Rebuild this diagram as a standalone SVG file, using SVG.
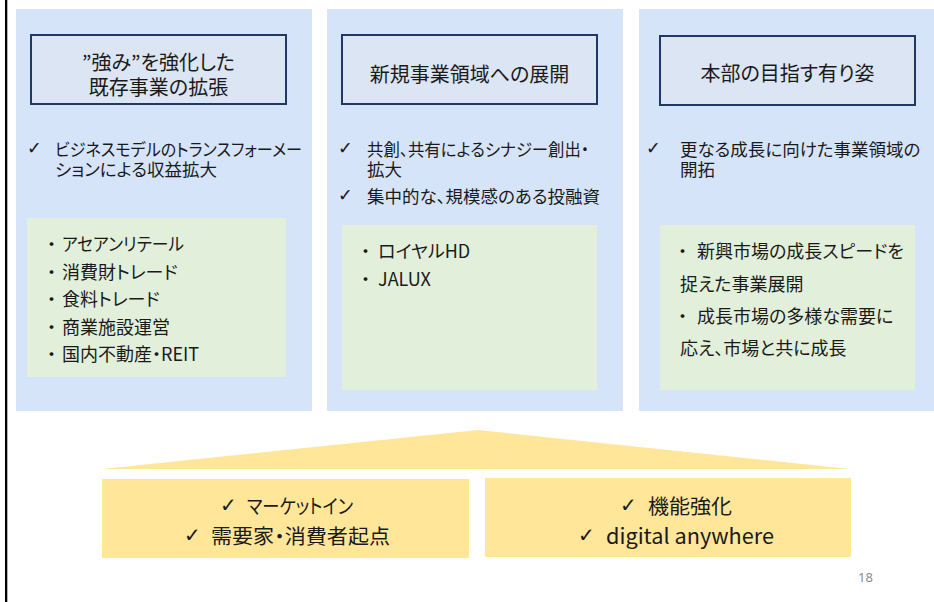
<svg xmlns="http://www.w3.org/2000/svg" width="934" height="602" viewBox="0 0 934 602">
<style>
text{font-family:"Meiryo UI","Noto Sans CJK JP","Noto Sans",sans-serif;fill:#1a1a1a;dominant-baseline:central;font-feature-settings:"palt" 1;}
.panel{fill:#D6E4FA;}
.title{fill:#DCE5F3;stroke:#203864;stroke-width:2;}
.green{fill:#E2EFDA;}
.yellow{fill:#FFE699;}
.t20{font-size:20px;text-anchor:middle;}
.t17{font-size:17.5px;}
.t18{font-size:18px;}
.b20{font-size:20px;}
.chk{font-family:"DejaVu Sans",sans-serif;font-feature-settings:normal;}
</style>
<rect x="5" y="0" width="2.3" height="602" fill="#000"/>
<g id="panel1">
<rect class="panel" x="16" y="9" width="296" height="402"/>
<rect class="title" x="31" y="35" width="255" height="69"/>
<text class="t20"><tspan x="158.5" y="61">”強み”を強化した</tspan><tspan x="158.5" y="86">既存事業の拡張</tspan></text>
<text class="t17 chk" x="27" y="148">✓</text>
<text class="t17"><tspan x="55" y="148" textLength="247" lengthAdjust="spacingAndGlyphs">ビジネスモデルのトランスフォーメー</tspan><tspan x="55" y="168">ションによる収益拡大</tspan></text>
<rect class="green" x="27" y="218" width="259" height="159"/>
<text class="t18" x="47" y="243">・</text><text class="t18" x="62" y="243" textLength="122" lengthAdjust="spacingAndGlyphs">アセアンリテール</text>
<text class="t18" x="47" y="271">・</text><text class="t18" x="62" y="271">消費財トレード</text>
<text class="t18" x="47" y="298">・</text><text class="t18" x="62" y="298">食料トレード</text>
<text class="t18" x="47" y="326">・</text><text class="t18" x="62" y="326">商業施設運営</text>
<text class="t18" x="47" y="353">・</text><text class="t18" x="62" y="353">国内不動産・REIT</text>
</g>
<g id="panel2">
<rect class="panel" x="327" y="9" width="296" height="402"/>
<rect class="title" x="342" y="35" width="255" height="69"/>
<text class="t20" x="469.5" y="73">新規事業領域への展開</text>
<text class="t17 chk" x="338" y="148">✓</text>
<text class="t17"><tspan x="367" y="148" textLength="222" lengthAdjust="spacingAndGlyphs">共創、共有によるシナジー創出・</tspan><tspan x="367" y="168">拡大</tspan></text>
<text class="t17 chk" x="338" y="195">✓</text>
<text class="t17" x="367" y="195">集中的な、規模感のある投融資</text>
<rect class="green" x="342" y="225" width="255" height="165"/>
<text class="t18" x="361" y="250">・</text><text class="t18" x="378" y="250">ロイヤルHD</text>
<text class="t18" x="361" y="278">・</text><text class="t18" x="378" y="278">JALUX</text>
</g>
<g id="panel3">
<rect class="panel" x="639" y="9" width="296" height="402"/>
<rect class="title" x="660" y="36" width="255" height="69"/>
<text class="t20" x="787.5" y="72">本部の目指す有り姿</text>
<text class="t17 chk" x="646" y="148">✓</text>
<text class="t17"><tspan x="680" y="148">更なる成長に向けた事業領域の</tspan><tspan x="680" y="168">開拓</tspan></text>
<rect class="green" x="660" y="225" width="255" height="165"/>
<text class="t18" x="678" y="250">・</text>
<text class="t18"><tspan x="697" y="250">新興市場の成長スピードを</tspan><tspan x="680" y="283">捉えた事業展開</tspan></text>
<text class="t18" x="678" y="315">・</text>
<text class="t18"><tspan x="697" y="315">成長市場の多様な需要に</tspan><tspan x="680" y="347">応え、市場と共に成長</tspan></text>
</g>
<g id="base">
<polygon class="yellow" points="102,469 478,430 850,469"/>
</g>
<g id="box-market">
<rect class="yellow" x="102" y="479" width="367" height="79"/>
<text class="b20 chk" x="220" y="505">✓</text>
<text class="b20" x="247" y="505" textLength="106" lengthAdjust="spacingAndGlyphs">マーケットイン</text>
<text class="b20 chk" x="184" y="535">✓</text>
<text class="b20" x="211" y="535" textLength="179" lengthAdjust="spacingAndGlyphs">需要家・消費者起点</text>
</g>
<g id="box-function">
<rect class="yellow" x="485" y="478" width="366" height="79"/>
<text class="b20 chk" x="620" y="505">✓</text>
<text class="b20" x="648" y="505" textLength="84" lengthAdjust="spacingAndGlyphs">機能強化</text>
<text class="b20 chk" x="578" y="535">✓</text>
<text class="b20" x="606" y="535" style="font-size:21px" textLength="168" lengthAdjust="spacingAndGlyphs">digital anywhere</text>
</g>
<text x="858" y="577" style="font-size:13px;fill:#8c8c8c;font-family:'Noto Sans',sans-serif">18</text>
<g id="connectors"/>
</svg>
